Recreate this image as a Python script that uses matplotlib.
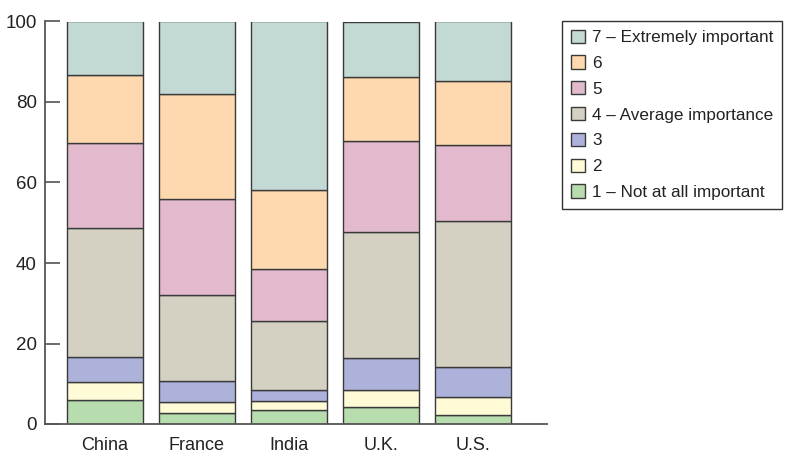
import numpy as np
import matplotlib.pyplot as plt

# percent of respondents per rating
countries = ['China', 'France', 'India', 'U.K.', 'U.S.']
ratings = ['1 – Not at all important', '2', '3', '4 – Average importance',
           '5', '6', '7 – Extremely important']
r1 = [6.0, 2.65, 3.5, 4.1, 2.2]
r2 = [4.5, 2.9, 2.3, 4.4, 4.4]
r3 = [6.2, 5.25, 2.6, 8.0, 7.5]
r4 = [32.0, 21.3, 17.2, 31.3, 36.3]
r5 = [21.1, 23.7, 12.8, 22.4, 18.9]
r6 = [17.0, 26.3, 19.8, 16.1, 15.8]
r7 = [13.2, 17.9, 41.8, 13.7, 14.9]

colors = ['#b7dcae', '#fefbd6', '#adb2db', '#d4d1c2', '#e3b9cd', '#fed9b0', '#c3d9d3']

plt.rcParams['font.family'] = ['Liberation Sans Narrow', 'Liberation Sans', 'DejaVu Sans']

fig = plt.figure(figsize=(7.99, 4.57), dpi=100)
ax = fig.add_axes([45 / 799, 33 / 457, 502 / 799, 402.5 / 457])

x = np.arange(len(countries))
bottom = np.zeros(len(countries))
handles = []
for vals, col, lab in zip([r1, r2, r3, r4, r5, r6, r7], colors, ratings):
    h = ax.bar(x, vals, width=0.826, bottom=bottom, color=col,
               edgecolor='#3a3a3a', linewidth=1.0, label=lab)
    handles.append(h)
    bottom += np.array(vals)

ax.set_xlim(-0.652, 4.804)
ax.set_ylim(0, 100)
ax.set_yticks([0, 20, 40, 60, 80, 100])
ax.set_xticks(x)
ax.set_xticklabels(countries)
ax.tick_params(axis='y', direction='in', length=11, width=1.1, color='#444444',
               labelsize=13.5, pad=6, labelcolor='#222222')
ax.tick_params(axis='x', length=0, labelsize=13, pad=9, labelcolor='#222222')
for s in ['top', 'right']:
    ax.spines[s].set_visible(False)
for s in ['left', 'bottom']:
    ax.spines[s].set_color('#555555')
    ax.spines[s].set_linewidth(1.3)

leg = fig.legend(handles[::-1], ratings[::-1], loc='upper left',
                 bbox_to_anchor=(562 / 799, 1 - 21 / 457), fontsize=12.3,
                 fancybox=False, edgecolor='#333333', framealpha=1,
                 handlelength=0.82, handleheight=0.82, labelspacing=0.6,
                 handletextpad=0.45, borderpad=0.5, borderaxespad=0)
leg.get_frame().set_linewidth(1.0)
for t in leg.get_texts():
    t.set_color('#222222')

fig.savefig('out.png', dpi=100)
